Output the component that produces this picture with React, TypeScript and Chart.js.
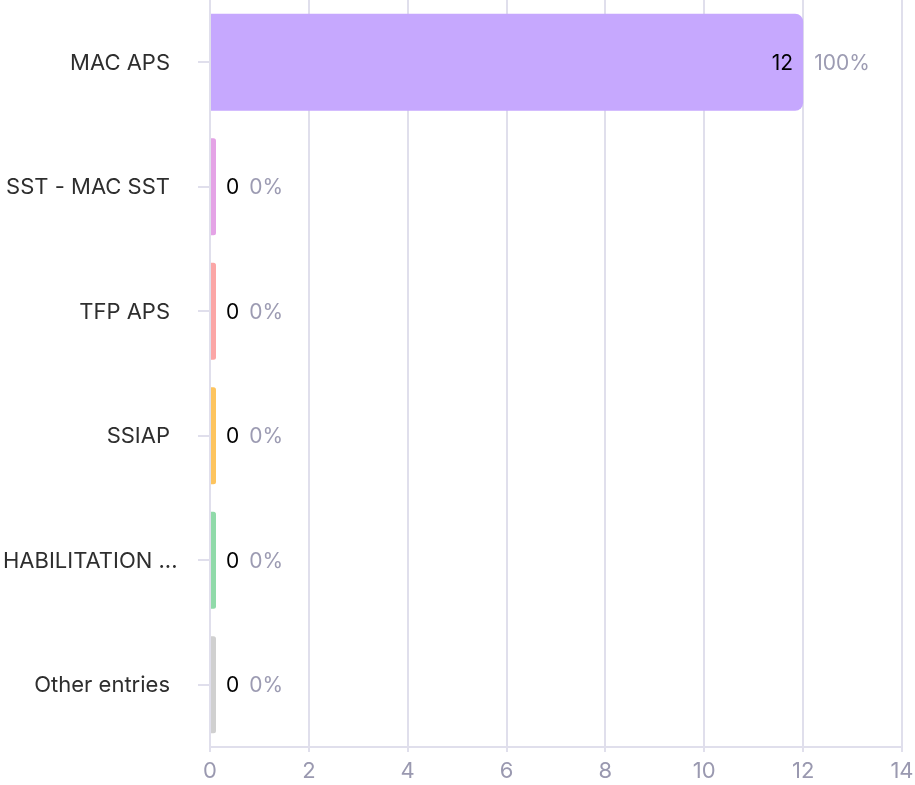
import React, { useEffect, useRef } from "react";
import { Chart, registerables } from "chart.js";

Chart.register(...registerables);

const categories = ["MAC APS", "SST - MAC SST", "TFP APS", "SSIAP", "HABILITATION ...", "Other entries"];
const values = [12, 0, 0, 0, 0, 0];
const barColors = ["#C6A8FE", "#E4A3E6", "#FBA6A6", "#FDC45E", "#90DAA9", "#D0D0D0"];
const xTicks = [0, 2, 4, 6, 8, 10, 12, 14];

const FONT = "Inter, 'Noto Sans', sans-serif";
const LABEL_FONT = `22px ${FONT}`;

const valueLabelPlugin = {
  id: "valueLabels",
  afterDatasetsDraw(chart: any) {
    const ctx = chart.ctx;
    const meta = chart.getDatasetMeta(0);
    const data = chart.data.datasets[0].data as number[];
    const total = data.reduce((a: number, b: number) => a + b, 0);
    ctx.save();
    ctx.textBaseline = "middle";
    ctx.font = `21px ${FONT}`;
    meta.data.forEach((bar: any, i: number) => {
      const v = data[i];
      const pct = total > 0 ? Math.round((v / total) * 100) : 0;
      const pctText = `${pct}%`;
      const vText = `${v}`;
      const x = bar.x;
      const y = bar.y;
      if (v > 0) {
        ctx.fillStyle = "#000000";
        ctx.textAlign = "right";
        ctx.fillText(vText, x - 10, y + 1);
        ctx.fillStyle = "#9C9BB2";
        ctx.textAlign = "left";
        ctx.fillText(pctText, x + 11, y + 1);
      } else {
        ctx.fillStyle = "#000000";
        ctx.textAlign = "left";
        ctx.fillText(vText, x + 10, y + 1);
        const w = ctx.measureText(vText).width;
        ctx.fillStyle = "#9C9BB2";
        ctx.fillText(pctText, x + 10 + w + 10, y + 1);
      }
    });
    ctx.restore();
  },
};

// Category labels: right-aligned next to the axis, clamped at the left edge when too long.
const categoryLabelPlugin = {
  id: "categoryLabels",
  afterDraw(chart: any) {
    const ctx = chart.ctx;
    const scale = chart.scales.y;
    const rightEdge = scale.right - 40;
    const leftEdge = 3;
    ctx.save();
    ctx.font = LABEL_FONT;
    ctx.fillStyle = "#2E2E2E";
    ctx.textBaseline = "middle";
    ctx.textAlign = "left";
    (chart.data.labels as string[]).forEach((label, i) => {
      const y = scale.getPixelForTick(i);
      const w = ctx.measureText(label).width;
      let x = rightEdge - w;
      if (x < leftEdge) x = leftEdge;
      ctx.fillText(label, x, y + 1);
    });
    ctx.restore();
  },
};

export default function App() {
  const canvasRef = useRef<HTMLCanvasElement | null>(null);

  useEffect(() => {
    document.body.style.margin = "0";
    const canvas = canvasRef.current;
    if (!canvas) return;
    const chart = new Chart(canvas, {
      type: "bar",
      data: {
        labels: categories,
        datasets: [
          {
            data: values,
            backgroundColor: barColors,
            borderRadius: 8,
            borderSkipped: "start",
            minBarLength: 6,
            barPercentage: 0.78,
            categoryPercentage: 1,
          },
        ],
      },
      options: {
        indexAxis: "y",
        animation: false,
        responsive: false,
        maintainAspectRatio: false,
        layout: { padding: { top: 0, right: 0, bottom: 0, left: 0 } },
        plugins: {
          legend: { display: false },
          tooltip: { enabled: false },
        },
        scales: {
          x: {
            min: 0,
            max: 14,
            afterBuildTicks(scale: any) {
              scale.ticks = xTicks.map((v) => ({ value: v }));
            },
            afterFit(scale: any) {
              scale.height = 38;
              scale.paddingRight = 13;
              scale.paddingLeft = 0;
            },
            grid: {
              color: "#E0DFEC",
              lineWidth: 2,
              tickLength: 5,
              drawOnChartArea: true,
            },
            border: { display: true, color: "#E0DFEC", width: 2 },
            ticks: {
              color: "#9A99B0",
              font: { family: FONT, size: 22 },
              padding: 6,
            },
          },
          y: {
            afterFit(scale: any) {
              scale.width = 210;
              scale.paddingTop = 0;
              scale.paddingBottom = 0;
            },
            grid: {
              offset: false,
              drawOnChartArea: false,
              color: "#E0DFEC",
              lineWidth: 2,
              tickLength: 12,
            },
            border: { display: false },
            ticks: {
              display: false,
            },
          },
        },
      },
      plugins: [valueLabelPlugin, categoryLabelPlugin],
    });
    return () => chart.destroy();
  }, []);

  return (
    <div style={{ width: 915, height: 785 }}>
      <canvas ref={canvasRef} width={915} height={785} style={{ width: 915, height: 785, display: "block" }} />
    </div>
  );
}
